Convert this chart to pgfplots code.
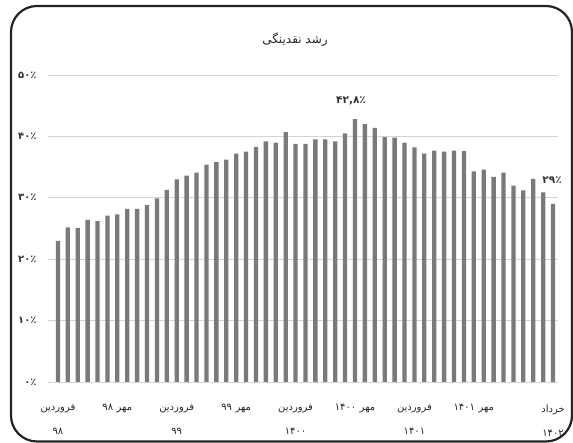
\documentclass[border=0pt]{standalone}
\usepackage{fontspec}
\usepackage{pgfplots}
\usepackage{pgfplotstable}
\pgfplotsset{compat=1.18}
\TeXXeTstate=1
\newfontfamily\fa[Script=Arabic]{DejaVu Sans}
\definecolor{barc}{RGB}{122,122,122}
\definecolor{gridc}{RGB}{212,212,212}
\definecolor{framec}{RGB}{35,35,35}
\newcommand{\mehr}[1]{\mbox{#1}\hspace{0.35em}\mbox{\beginR مهر\endR}}
\newcommand{\farv}{\mbox{\beginR فروردین\endR}}
\pgfplotstableread{
x y
0 23.0
1 25.2
2 25.1
3 26.4
4 26.2
5 27.1
6 27.3
7 28.2
8 28.2
9 28.8
10 29.9
11 31.3
12 33.0
13 33.6
14 34.1
15 35.4
16 35.8
17 36.2
18 37.2
19 37.5
20 38.3
21 39.2
22 39.0
23 40.7
24 38.8
25 38.8
26 39.5
27 39.5
28 39.2
29 40.5
30 42.8
31 42.0
32 41.4
33 39.9
34 39.8
35 39.0
36 38.2
37 37.2
38 37.7
39 37.5
40 37.7
41 37.6
42 34.3
43 34.6
44 33.4
45 34.1
46 32.0
47 31.2
48 33.1
49 30.9
50 29.0
}\growth
\begin{document}
\begin{tikzpicture}[x=1pt,y=1pt]
\useasboundingbox (0,0) rectangle (573,443);
\draw[framec, line width=2.2pt, rounded corners=26pt] (11,1.5) rectangle (572,437);
\node[font=\fa\fontsize{12}{14}\selectfont, text=black!85] at (295,403) {\beginR رشد نقدینگی\endR};
\begin{axis}[
  at={(48pt,61pt)}, anchor=south west,
  scale only axis, width=510pt, height=307pt,
  xmin=-1, xmax=50.5, ymin=0, ymax=50,
  axis line style={draw=none},
  major tick length=0pt,
  ymajorgrids, grid style={gridc, line width=0.8pt},
  ytick={0,10,20,30,40,50},
  yticklabels={{۰٪},{۱۰٪},{۲۰٪},{۳۰٪},{۴۰٪},{۵۰٪}},
  yticklabel style={font=\fa\bfseries\fontsize{10}{12}\selectfont, text=black!80, anchor=east, xshift=-8pt},
  xtick={0,6,12,18,24,30,36,42,50},
  xticklabels={
    {\farv\\۹۸},
    {\mehr{۹۸}\\\mbox{}},
    {\farv\\۹۹},
    {\mehr{۹۹}\\\mbox{}},
    {\farv\\۱۴۰۰},
    {\mehr{۱۴۰۰}\\\mbox{}},
    {\farv\\۱۴۰۱},
    {\mehr{۱۴۰۱}\\\mbox{}},
    {\mbox{\beginR خرداد\endR}\\۱۴۰۲}},
  xticklabel style={font=\fa\fontsize{10}{24}\selectfont, text=black!85, align=center, anchor=north, yshift=-19pt},
  clip=false,
]
\addplot[ybar, bar width=4.3pt, fill=barc, draw=none] table[x=x,y=y] {\growth};
\node[font=\fa\bfseries\fontsize{10.5}{12}\selectfont, text=black!80, anchor=south] at (axis cs:29.6,42.8) [yshift=11pt] {۴۲,۸٪};
\node[font=\fa\bfseries\fontsize{10.5}{12}\selectfont, text=black!80, anchor=south] at (axis cs:49.9,29) [yshift=17pt] {۲۹٪};
\end{axis}
\end{tikzpicture}
\end{document}
